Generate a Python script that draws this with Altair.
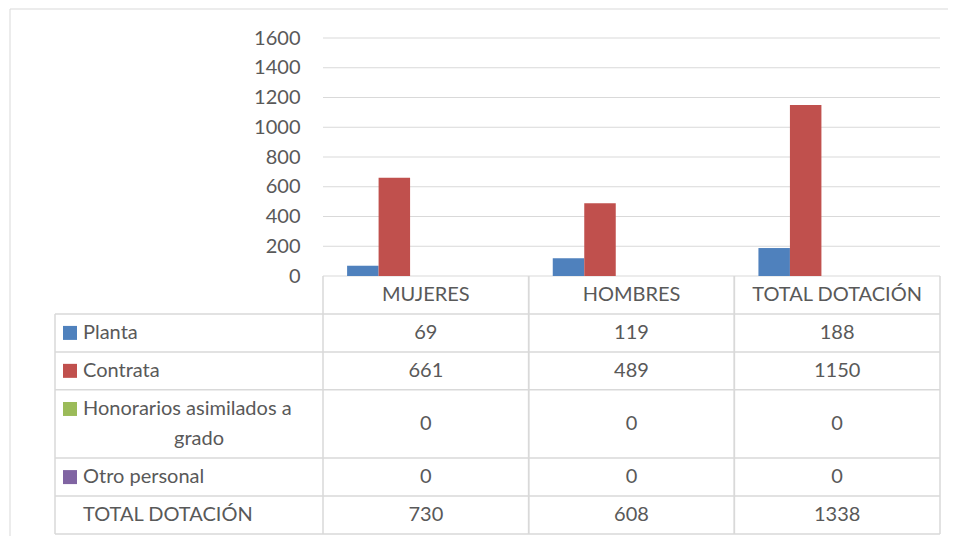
import altair as alt
import pandas as pd

# ---------------- data ----------------
categories = ["MUJERES", "HOMBRES", "TOTAL DOTACIÓN"]
series = ["Planta", "Contrata", "Honorarios asimilados a grado", "Otro personal", "TOTAL DOTACIÓN"]
planta = [69, 119, 188]
contrata = [661, 489, 1150]
honorarios = [0, 0, 0]
otro = [0, 0, 0]
total = [730, 608, 1338]
y_ticks = [0, 200, 400, 600, 800, 1000, 1200, 1400, 1600]
series_colors = ["#4F81BD", "#C0504D", "#9BBB59", "#8064A2"]
row_first_line = ["Planta", "Contrata", "Honorarios asimilados a", "Otro personal", "TOTAL DOTACIÓN"]
row_second_line = ["", "", "grado", "", ""]
row_has_key = [True, True, True, True, False]

# ---------------- layout ----------------
W = 885          # plot width (table incl. label column)
H = 496          # plot height (bars + table)
LABEL_W = 268    # label column width
BAR_H = 238      # height of bar area
TEXT = "#595959"
LINE = "#D9D9D9"
FONT = "Lato"
FS = 20

series_values = [planta, contrata, honorarios, otro, total]

# row heights in units (header + 5 rows), 2-line row is taller
row_lines = [1, 1, 1, 2, 1, 1]
row_units = [1 + 0.8 * (n - 1) for n in row_lines]
edges = [0.0]
for u in row_units:
    edges.append(edges[-1] + u)
total_units = edges[-1]
unit_px = (H - BAR_H) / total_units
centers = [(edges[i] + edges[i + 1]) / 2 for i in range(len(row_units))]
line_off = 15 / unit_px

# ---------------- dataframes ----------------
bars_df = pd.DataFrame([
    {"category": c, "series": s, "value": series_values[si][ci]}
    for si, s in enumerate(series[:4]) for ci, c in enumerate(categories)
])
grid_df = pd.DataFrame({"v": y_ticks})
header_df = pd.DataFrame({"category": categories, "yc": centers[0]})
values_df = pd.DataFrame([
    {"category": c, "text": str(series_values[si][ci]), "yc": centers[si + 1]}
    for si in range(5) for ci, c in enumerate(categories)
])
lab_rows = []
cont_rows = []
key_rows = []
for i in range(5):
    c = centers[i + 1]
    two = row_second_line[i] != ""
    y1 = c - line_off if two else c
    lab_rows.append({"text": row_first_line[i], "yc": y1})
    if two:
        cont_rows.append({"text": row_second_line[i], "yc": c + line_off})
    if row_has_key[i]:
        key_rows.append({"series": series[i], "yc": y1})
lab_df = pd.DataFrame(lab_rows)
cont_df = pd.DataFrame(cont_rows)
key_df = pd.DataFrame(key_rows)
hline_df = pd.DataFrame({"e": edges[1:]})
vline_df = pd.DataFrame({"category": categories, "y0": 0.0, "y1": total_units})
lcol_df = pd.DataFrame({"y0": [edges[1]], "y1": [total_units]})

# ---------------- scales ----------------
xscale = alt.Scale(domain=categories, range=[LABEL_W, W], paddingInner=0, paddingOuter=0)
yscale_bar = alt.Scale(domain=[0, 1600], range=[BAR_H, 0], nice=False, zero=True)
tscale = alt.Scale(domain=[0, total_units], range=[BAR_H, H], nice=False, zero=False)
color_scale = alt.Scale(domain=series[:4], range=series_colors)

yaxis = alt.Axis(values=y_ticks, format="d", offset=-LABEL_W, labelPadding=23, ticks=False, domain=False,
                 grid=False, title=None, labelFont=FONT, labelFontSize=FS, labelColor=TEXT)

# ---------------- bar part ----------------
grid = alt.Chart(grid_df).mark_rule(color=LINE, strokeWidth=1).encode(
    y=alt.Y("v:Q", scale=yscale_bar, axis=yaxis),
    x=alt.value(LABEL_W), x2=alt.value(W),
)
bars = alt.Chart(bars_df).mark_bar().encode(
    x=alt.X("category:N", scale=xscale, axis=None, sort=categories),
    xOffset=alt.XOffset("series:N", scale=alt.Scale(domain=series, paddingOuter=0.765, paddingInner=0)),
    y=alt.Y("value:Q", scale=yscale_bar, axis=yaxis),
    color=alt.Color("series:N", scale=color_scale, legend=None),
)
bar_group = alt.layer(grid, bars)

# ---------------- table part ----------------
ty = lambda f: alt.Y(f, scale=tscale, axis=None)

frame = alt.Chart(pd.DataFrame({"a": [0]})).mark_rect(fill="transparent", stroke=LINE, strokeWidth=1).encode(
    x=alt.value(-45), x2=alt.value(W + 40), y=alt.value(-29), y2=alt.value(H + 60)
)
hlines = alt.Chart(hline_df).mark_rule(color=LINE, strokeWidth=1.5).encode(
    y=ty("e:Q"), x=alt.value(0), x2=alt.value(W)
)
vl0 = alt.Chart(vline_df).mark_rule(color=LINE, strokeWidth=1.5).encode(
    x=alt.X("category:N", scale=xscale, axis=None, bandPosition=0),
    y=ty("y0:Q"), y2="y1:Q",
)
vl1 = alt.Chart(vline_df).mark_rule(color=LINE, strokeWidth=1.5).encode(
    x=alt.X("category:N", scale=xscale, axis=None, bandPosition=1),
    y=ty("y0:Q"), y2="y1:Q",
)
lcol = alt.Chart(lcol_df).mark_rule(color=LINE, strokeWidth=1.5).encode(
    x=alt.value(0), y=ty("y0:Q"), y2="y1:Q"
)
header = alt.Chart(header_df).mark_text(font=FONT, fontSize=FS, color=TEXT, baseline="middle").encode(
    x=alt.X("category:N", scale=xscale, axis=None), y=ty("yc:Q"), text="category:N"
)
vals = alt.Chart(values_df).mark_text(font=FONT, fontSize=FS, color=TEXT, baseline="middle").encode(
    x=alt.X("category:N", scale=xscale, axis=None), y=ty("yc:Q"), text="text:N"
)
labs = alt.Chart(lab_df).mark_text(font=FONT, fontSize=FS, color=TEXT, baseline="middle", align="left").encode(
    x=alt.value(28), y=ty("yc:Q"), text="text:N"
)
conts = alt.Chart(cont_df).mark_text(font=FONT, fontSize=FS, color=TEXT, baseline="middle", align="center").encode(
    x=alt.value(144), y=ty("yc:Q"), text="text:N"
)
keys = alt.Chart(key_df).mark_square(size=196, opacity=1).encode(
    x=alt.value(15), y=ty("yc:Q"),
    color=alt.Color("series:N", scale=color_scale, legend=None),
)
table_group = alt.layer(frame, hlines, vl0, vl1, lcol, header, vals, labs, conts, keys)

chart = alt.layer(bar_group, table_group).resolve_scale(y="independent").properties(
    width=W, height=H,
    autosize=alt.AutoSizeParams(type="none"),
    padding={"left": 47, "top": 30, "right": 8, "bottom": 2},
).configure(font=FONT).configure_view(stroke=None)

chart.save("out.html", embed_options={"renderer": "svg", "actions": False})
